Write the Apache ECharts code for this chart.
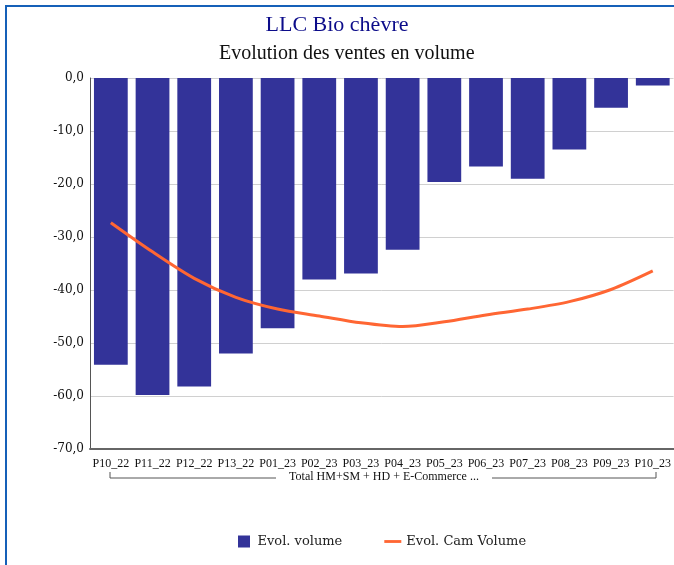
<!DOCTYPE html>
<html>
<head>
<meta charset="utf-8">
<script src="https://cdn.jsdelivr.net/npm/echarts@6/dist/echarts.min.js"></script>
<style>
  html, body { margin: 0; padding: 0; background: #fff; }
  #chart { width: 674px; height: 565px; }
  .frame { position: absolute; left: 5px; top: 5px; width: 700px; height: 600px; border: 2px solid #1560b8; box-sizing: border-box; pointer-events: none; }
</style>
</head>
<body>
<div id="chart"></div>
<div class="frame"></div>
<script>
const categories = ['P10_22', 'P11_22', 'P12_22', 'P13_22', 'P01_23', 'P02_23', 'P03_23',
  'P04_23', 'P05_23', 'P06_23', 'P07_23', 'P08_23', 'P09_23', 'P10_23']
const evolVolume = [-54.1, -59.8, -58.2, -52.0, -47.2, -38.0, -36.9, -32.4, -19.6, -16.7, -19.0, -13.5, -5.6, -1.4]
const evolCamVolume = [-27.3, -32.8, -37.8, -41.4, -43.6, -44.9, -46.2, -46.9, -46.0, -44.7, -43.6, -42.2, -39.9, -36.4]
const groupLabel = 'Total HM+SM + HD + E-Commerce ...'

const chart = echarts.init(document.getElementById('chart'))
const serif = '"Liberation Serif", serif'
const dserif = '"DejaVu Serif", serif'

chart.setOption({
  animation: false,
  title: [
    {
      text: 'LLC Bio chèvre',
      left: 'center',
      top: 9,
      textStyle: { fontFamily: serif, fontSize: 22, fontWeight: 'normal', color: '#0c0c8a' }
    },
    {
      text: 'Evolution des ventes en volume',
      left: 214,
      top: 39,
      textStyle: { fontFamily: serif, fontSize: 20, fontWeight: 'normal', color: '#111' }
    }
  ],
  grid: { left: 90, top: 78, right: -2, bottom: 116 },
  legend: {
    bottom: 12,
    left: 233,
    itemGap: 42,
    itemWidth: 17,
    itemHeight: 12,
    textStyle: { fontFamily: dserif, fontSize: 13, color: '#222' },
    data: [
      { name: 'Evol. volume', icon: 'path://M0,0H10V10H0Z' },
      { name: 'Evol. Cam Volume', icon: 'path://M0,0H18V3H0Z' }
    ]
  },
  xAxis: {
    type: 'category',
    data: categories,
    position: 'bottom',
    axisLine: { onZero: false, lineStyle: { color: '#666', width: 2 } },
    axisTick: { show: false },
    axisLabel: { interval: 0, margin: 9, fontFamily: serif, fontSize: 12, color: '#111' }
  },
  yAxis: {
    type: 'value',
    min: -70,
    max: 0,
    interval: 10,
    axisLine: { show: true, lineStyle: { color: '#555', width: 1 } },
    axisTick: { show: false },
    splitLine: { lineStyle: { color: '#d0d0d0' } },
    axisLabel: {
      margin: 6,
      fontFamily: dserif,
      fontSize: 12,
      color: '#111',
      formatter: (v) => v.toFixed(1).replace('.', ',')
    }
  },
  series: [
    {
      name: 'Evol. volume',
      type: 'bar',
      data: evolVolume,
      barCategoryGap: '19%',
      itemStyle: { color: '#333399' }
    },
    {
      name: 'Evol. Cam Volume',
      type: 'line',
      data: evolCamVolume,
      smooth: 0.3,
      symbol: 'none',
      lineStyle: { color: '#ff6633', width: 3 },
      itemStyle: { color: '#ff6633' }
    }
  ],
  graphic: [
    {
      type: 'polyline',
      shape: { points: [[110, 472], [110, 478], [276, 478]] },
      style: { stroke: '#555', lineWidth: 1, fill: null }
    },
    {
      type: 'polyline',
      shape: { points: [[492, 478], [656, 478], [656, 472]] },
      style: { stroke: '#555', lineWidth: 1, fill: null }
    },
    {
      type: 'text',
      x: 384,
      y: 477,
      style: {
        text: groupLabel,
        fontFamily: serif,
        fontSize: 12,
        fill: '#111',
        align: 'center',
        verticalAlign: 'middle'
      }
    }
  ]
})
</script>
</body>
</html>
